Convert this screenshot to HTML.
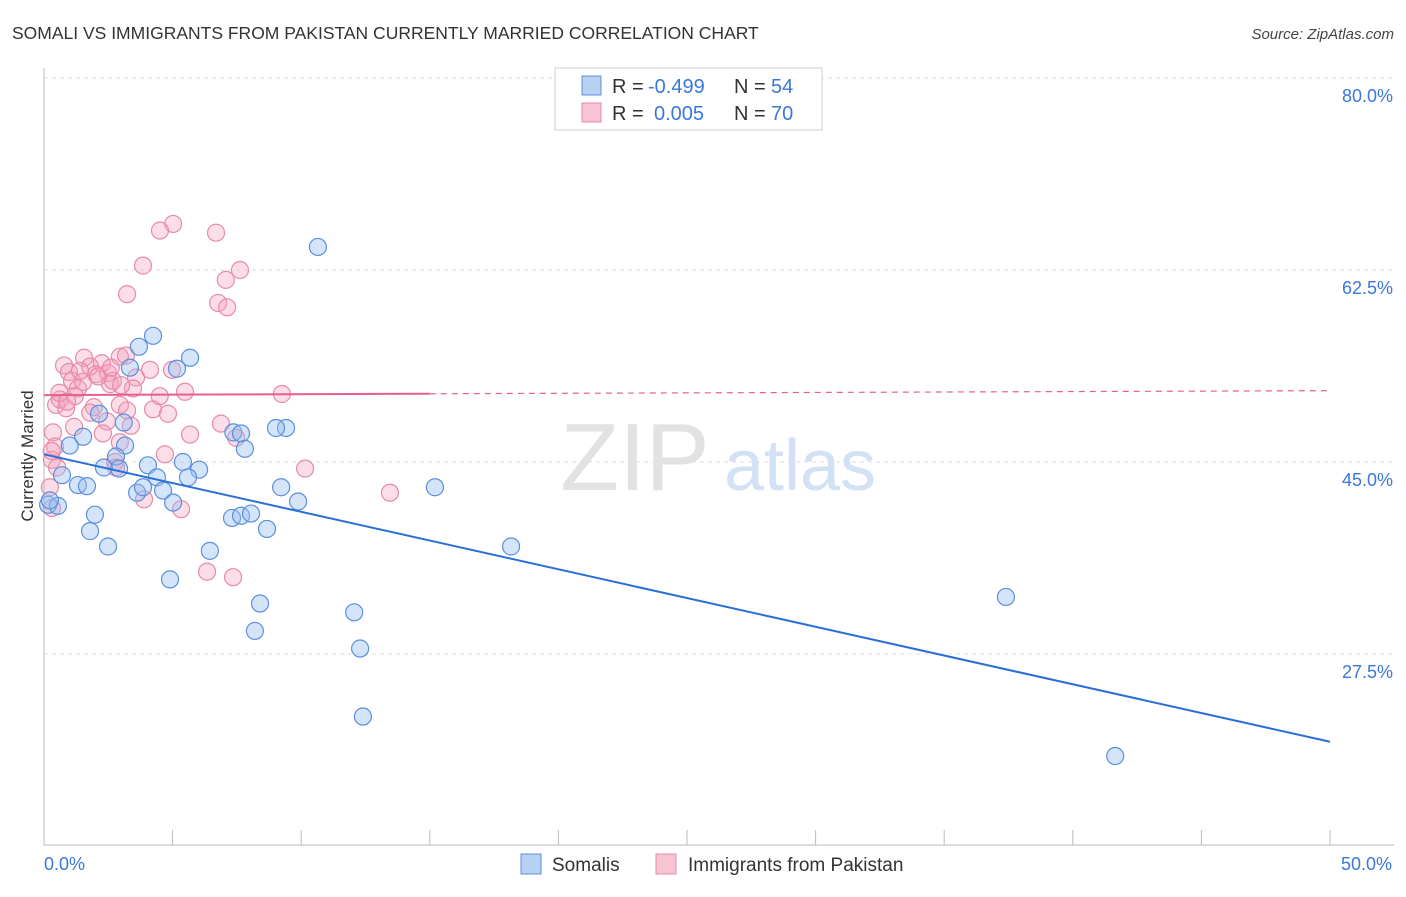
<!DOCTYPE html>
<html><head><meta charset="utf-8"><style>
body{margin:0;background:#fff;font-family:"Liberation Sans",sans-serif;}
svg text{font-family:"Liberation Sans",sans-serif;}
</style></head><body>
<svg id="chart" width="1406" height="892" xmlns="http://www.w3.org/2000/svg">
<text x="12" y="39" font-size="17.5" fill="#333">SOMALI VS IMMIGRANTS FROM PAKISTAN CURRENTLY MARRIED CORRELATION CHART</text>
<text x="1394" y="39" font-size="15" fill="#444" text-anchor="end" font-style="italic">Source: ZipAtlas.com</text>
<text transform="translate(33,456) rotate(-90)" font-size="17" fill="#333" text-anchor="middle">Currently Married</text>
<g id="grid"></g>
<g id="watermark">
<text x="635" y="490" font-size="96" fill="#e2e2e2" font-family="Liberation Serif" text-anchor="middle">ZIP</text>
<text x="800" y="490" font-size="72" fill="#d3e1f4" text-anchor="middle">atlas</text>
</g>
<g id="axes"></g>
<g id="pts"></g>
<g id="lines"></g>
<g>
<rect x="555" y="68" width="267" height="62" fill="#fff" stroke="#ccc"/>
<rect x="582" y="76" width="19" height="19" fill="#b8d0f2" stroke="#5b8fdd"/>
<rect x="582" y="103" width="19" height="19" fill="#f8c4d4" stroke="#e88aa8"/>
<text x="612" y="93" font-size="20" fill="#333">R =</text>
<text x="648" y="93" font-size="20" fill="#3a78d8">-0.499</text>
<text x="734" y="93" font-size="20" fill="#333">N =</text>
<text x="771" y="93" font-size="20" fill="#3a78d8">54</text>
<text x="612" y="120" font-size="20" fill="#333">R =</text>
<text x="654" y="120" font-size="20" fill="#3a78d8">0.005</text>
<text x="734" y="120" font-size="20" fill="#333">N =</text>
<text x="771" y="120" font-size="20" fill="#3a78d8">70</text>
</g>
<g>
<rect x="521" y="854" width="20" height="20" fill="#b8d0f2" stroke="#5b8fdd"/>
<text x="552" y="871" font-size="19" fill="#333">Somalis</text>
<rect x="656" y="854" width="20" height="20" fill="#f8c4d4" stroke="#e88aa8"/>
<text x="688" y="871" font-size="19" fill="#333">Immigrants from Pakistan</text>
</g>
</svg>
<script>
const yTicks=[80,62.5,45,27.5];
const xTickLabels=["0.0%","50.0%"];
const blueX=[10.65,4.24,3.69,5.68,5.17,3.34,9.41,9.02,7.36,7.66,7.81,2.14,1.52,1.0,3.15,2.80,4.04,2.33,2.92,5.4,6.03,4.39,5.6,0.70,0.16,0.54,1.32,1.67,3.62,4.63,3.85,5.02,9.22,9.88,15.2,1.98,1.79,2.49,7.31,7.66,8.05,8.67,6.45,4.9,8.4,12.06,8.2,12.29,12.4,18.16,37.4,41.65,0.23,3.1];
const blueY=[64.6,56.5,55.5,54.5,53.5,53.6,48.1,48.1,47.7,47.6,46.2,49.4,47.3,46.5,46.5,45.5,44.7,44.5,44.4,45.0,44.3,43.6,43.6,43.8,41.1,41.0,42.9,42.8,42.2,42.4,42.7,41.3,42.7,41.4,42.7,40.2,38.7,37.3,39.9,40.1,40.3,38.9,36.9,34.3,32.1,31.3,29.6,28.0,21.8,37.3,32.7,18.2,41.5,48.6];
const pinkX=[5.02,4.51,6.69,3.85,7.62,7.07,3.23,6.77,7.12,0.78,0.97,1.56,1.79,2.95,3.19,2.25,4.12,3.58,1.09,2.02,2.49,2.57,1.32,1.52,2.68,3.46,4.98,5.48,9.25,0.47,0.62,0.86,1.94,2.95,4.24,3.23,4.82,2.45,3.38,6.88,1.17,0.35,5.68,2.29,7.47,0.43,2.95,4.7,0.31,0.51,2.76,2.8,10.15,3.89,5.33,13.45,6.34,7.35,0.23,0.31,1.2,2.1,3.0,0.6,1.4,2.6,0.9,1.8,0.3,4.5];
const pinkY=[66.7,66.1,65.9,62.9,62.5,61.6,60.3,59.5,59.1,53.8,53.2,54.5,53.7,54.6,54.7,54.0,53.4,52.7,52.4,53.0,53.1,52.1,51.7,52.3,52.4,51.7,53.4,51.4,51.2,50.2,50.7,49.9,50.0,50.2,49.8,49.7,49.4,48.7,48.3,48.5,48.2,47.7,47.5,47.6,47.2,46.4,46.8,45.7,45.2,44.5,45.0,44.5,44.4,41.6,40.7,42.2,35.0,34.5,42.7,40.8,51.0,52.8,52.0,51.3,53.3,53.6,50.5,49.5,46.0,51.0];
const blueLine=[45.7,19.5];
const pinkLine=[51.1,51.5];
const NS="http://www.w3.org/2000/svg";
const sx=v=>44+v/50*1286;
const sy=v=>462-(v-45)/17.5*192;
function mk(tag,attrs,parent){const e=document.createElementNS(NS,tag);for(const k in attrs)e.setAttribute(k,attrs[k]);document.getElementById(parent).appendChild(e);return e;}
yTicks.forEach(t=>{
 const l=mk('line',{x1:44,x2:1394,y1:sy(t),y2:sy(t),stroke:'#ddd','stroke-dasharray':'4,4'},'grid');
 
 
 const tx=mk('text',{x:1393,y:sy(t)+24,'font-size':18,fill:'#3a78d8','text-anchor':'end'},'grid');
 tx.textContent=t.toFixed(1)+'%';
 
 
});
mk('line',{x1:44,x2:44,y1:68,y2:845,stroke:'#bbb'},'axes');
mk('line',{x1:44,x2:1394,y1:845,y2:845,stroke:'#bbb'},'axes');
for(let i=0;i<=10;i++){const t=mk('line',{x1:sx(i*5),x2:sx(i*5),y1:830,y2:845,stroke:'#bbb'},'axes');
 
 }
[[0,'start'],[50,'end']].forEach((p,i)=>{const t=mk('text',{x:sx(p[0])+(i?62:0),y:870,'font-size':18,fill:'#3a78d8','text-anchor':i?'end':'start'},'axes');
 t.textContent=xTickLabels[i];
 
 });
pinkX.forEach((x,i)=>{const c=mk('circle',{cx:sx(x),cy:sy(pinkY[i]),r:8.5,fill:'rgba(244,160,190,0.35)',stroke:'#e88aa8','stroke-width':1.2},'pts');
 
 });
blueX.forEach((x,i)=>{const c=mk('circle',{cx:sx(x),cy:sy(blueY[i]),r:8.5,fill:'rgba(150,190,240,0.4)',stroke:'#5b8fdd','stroke-width':1.2},'pts');
 
 });
const bl=mk('line',{x1:sx(0),y1:sy(blueLine[0]),x2:sx(50),y2:sy(blueLine[1]),stroke:'#2a6fd6','stroke-width':2},'lines');


const pm=pinkLine[0]+(pinkLine[1]-pinkLine[0])*0.3;
const p1=mk('line',{x1:sx(0),y1:sy(pinkLine[0]),x2:sx(15),y2:sy(pm),stroke:'#e8608a','stroke-width':2},'lines');


const p2=mk('line',{x1:sx(15),y1:sy(pm),x2:sx(50),y2:sy(pinkLine[1]),stroke:'#e8608a','stroke-width':1.2,'stroke-dasharray':'6,5'},'lines');


</script>
</body></html>
